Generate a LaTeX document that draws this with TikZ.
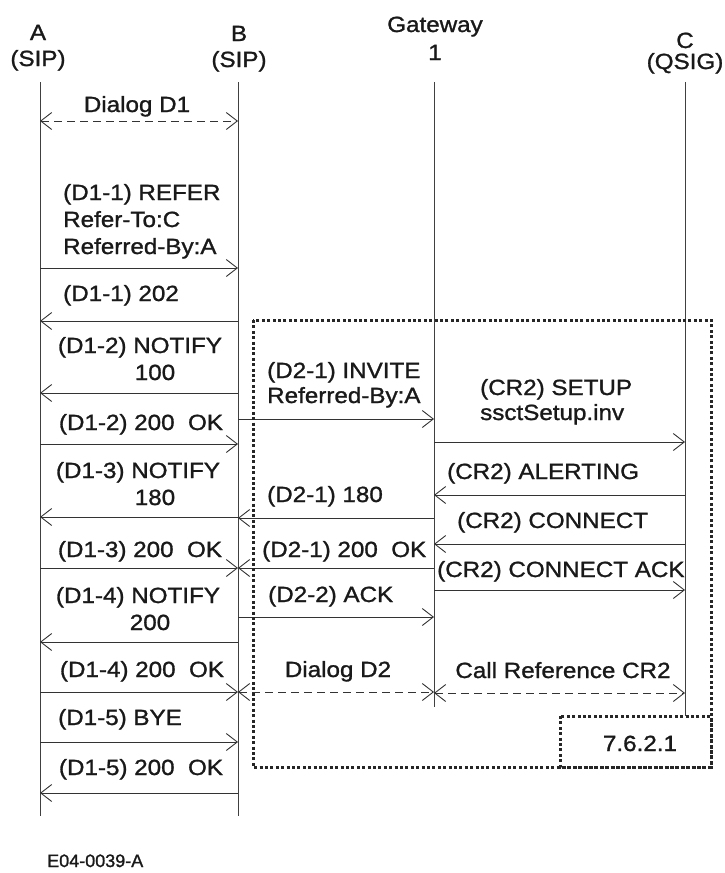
\documentclass[tikz,border=0pt]{standalone}
\usepackage{fontspec}
\setmainfont{Liberation Sans}[FakeStretch=1.1,FakeBold=1.2]
\newfontfamily\notefont{Liberation Sans}[FakeBold=1.2]
\usetikzlibrary{arrows.meta}

\tikzset{
  life/.style={line width=0.9pt,draw=black!75},
  msg/.style={line width=0.9pt,draw=black!80,->},
  dlg/.style={msg,<->,dash pattern=on 8pt off 5pt},
  frame/.style={line width=3pt,draw=black!85,dash pattern=on 3pt off 2.4pt},
  lbl/.style={inner sep=0pt,text=black!90,font=\fontsize{22}{27}\selectfont},
}

\begin{document}
\begin{tikzpicture}[x=1pt,y=-1pt,>={Straight Barb[length=11pt,width=17pt]}]
  \useasboundingbox (0,0) rectangle (725,873);
  % participants (base = last line)
  \node[lbl,align=center,anchor=base] (hA) at (38,66) {A\\[-1pt](SIP)};
  \node[lbl,align=center,anchor=base] (hB) at (239,67) {B\\[-1pt](SIP)};
  \node[lbl,align=center,anchor=base] (hG) at (435,60) {Gateway\\[1pt]1};
  \node[lbl,align=center,anchor=base] (hC) at (685,69) {C\\[-6pt](QSIG)};
  \coordinate (A0) at (40,82);\coordinate (A1) at (40,816);
  \coordinate (B0) at (238,82);\coordinate (B1) at (238,816);
  \coordinate (G0) at (434,82);\coordinate (G1) at (434,707);
  \coordinate (C0) at (685,82);\coordinate (C1) at (685,716);
  \draw[life] (A0)--(A1); \draw[life] (B0)--(B1); \draw[life] (G0)--(G1); \draw[life] (C0)--(C1);

  % dialog D1 between A and B
  \draw[dlg] (A0|-0,121)--(B0|-0,121);
  \node[lbl,anchor=base] (d1) at (137,112) {Dialog D1};
  \draw[msg] (A0|-0,268)--(B0|-0,268);
  \node[lbl,align=left,anchor=base west] (refer) at (63,254) {(D1-1) REFER\\Refer-To:C\\Referred-By:A};
  \draw[msg] (B0|-0,321)--(A0|-0,321);
  \node[lbl,anchor=base west] (acc) at (63,301) {(D1-1) 202};
  \draw[msg] (B0|-0,393)--(A0|-0,393);
  \node[lbl,align=center,anchor=base] (n100) at (140,380) {(D1-2) NOTIFY\\\hspace*{30pt}100};
  \draw[msg] (A0|-0,444)--(B0|-0,444);
  \node[lbl,anchor=base] (ok2) at (141,430) {(D1-2) 200~ OK};
  \draw[msg] (B0|-0,517)--(A0|-0,517);
  \node[lbl,align=center,anchor=base] (n180) at (138,505) {(D1-3) NOTIFY\\\hspace*{34pt}180};
  \draw[msg] (A0|-0,568)--(B0|-0,568);
  \node[lbl,anchor=base] (ok3) at (140,557) {(D1-3) 200~ OK};
  \draw[msg] (B0|-0,642)--(A0|-0,642);
  \node[lbl,align=center,anchor=base] (n200) at (138,630) {(D1-4) NOTIFY\\\hspace*{24pt}200};
  \draw[msg] (A0|-0,692)--(B0|-0,692);
  \node[lbl,anchor=base] (ok4) at (142,677) {(D1-4) 200~ OK};
  \draw[msg] (A0|-0,742)--(B0|-0,742);
  \node[lbl,anchor=base west] (bye) at (58,725) {(D1-5) BYE};
  \draw[msg] (B0|-0,793)--(A0|-0,793);
  \node[lbl,anchor=base] (ok5) at (141,775) {(D1-5) 200~ OK};

  % dialog D2 between B and gateway
  \draw[msg] (B0|-0,419)--(G0|-0,419);
  \node[lbl,align=left,anchor=base west] (inv) at (267,403) {(D2-1) INVITE\\[-2pt]Referred-By:A};
  \draw[msg] (G0|-0,518)--(B0|-0,518);
  \node[lbl,anchor=base west] (r180) at (267,502) {(D2-1) 180};
  \draw[msg] (G0|-0,568)--(B0|-0,568);
  \node[lbl,anchor=base west] (r200) at (262,557) {(D2-1) 200~ OK};
  \draw[msg] (B0|-0,617)--(G0|-0,617);
  \node[lbl,anchor=base west] (ack) at (268,602) {(D2-2) ACK};
  \draw[dlg] (B0|-0,692)--(G0|-0,692);
  \node[lbl,anchor=base] (d2) at (338,677) {Dialog D2};

  % call reference CR2 between gateway and C
  \draw[msg] (G0|-0,442)--(C0|-0,442);
  \node[lbl,align=left,anchor=base west] (setup) at (480,420) {(CR2) SETUP\\[-2pt]ssctSetup.inv};
  \draw[msg] (C0|-0,495)--(G0|-0,495);
  \node[lbl,anchor=base west] (alert) at (447,479) {(CR2) ALERTING};
  \draw[msg] (C0|-0,544)--(G0|-0,544);
  \node[lbl,anchor=base west] (conn) at (457,528) {(CR2) CONNECT};
  \draw[msg] (G0|-0,590)--(C0|-0,590);
  \node[lbl,anchor=base west] (cack) at (437,577) {(CR2) CONNECT ACK};
  \draw[dlg] (G0|-0,693)--(C0|-0,693);
  \node[lbl,anchor=base] (cr2) at (563,678) {Call Reference CR2};

  % dotted frame
  \draw[frame] (253,320) rectangle (711,767);
  \draw[frame] (560,716) rectangle (711,767);
  \node[lbl,anchor=base] (sec) at (640,751) {7.6.2.1};

  \node[inner sep=0pt,anchor=base west,text=black!90,font=\notefont\fontsize{18}{20}\selectfont] (fig) at (47,867) {E04-0039-A};
\end{tikzpicture}
\end{document}
